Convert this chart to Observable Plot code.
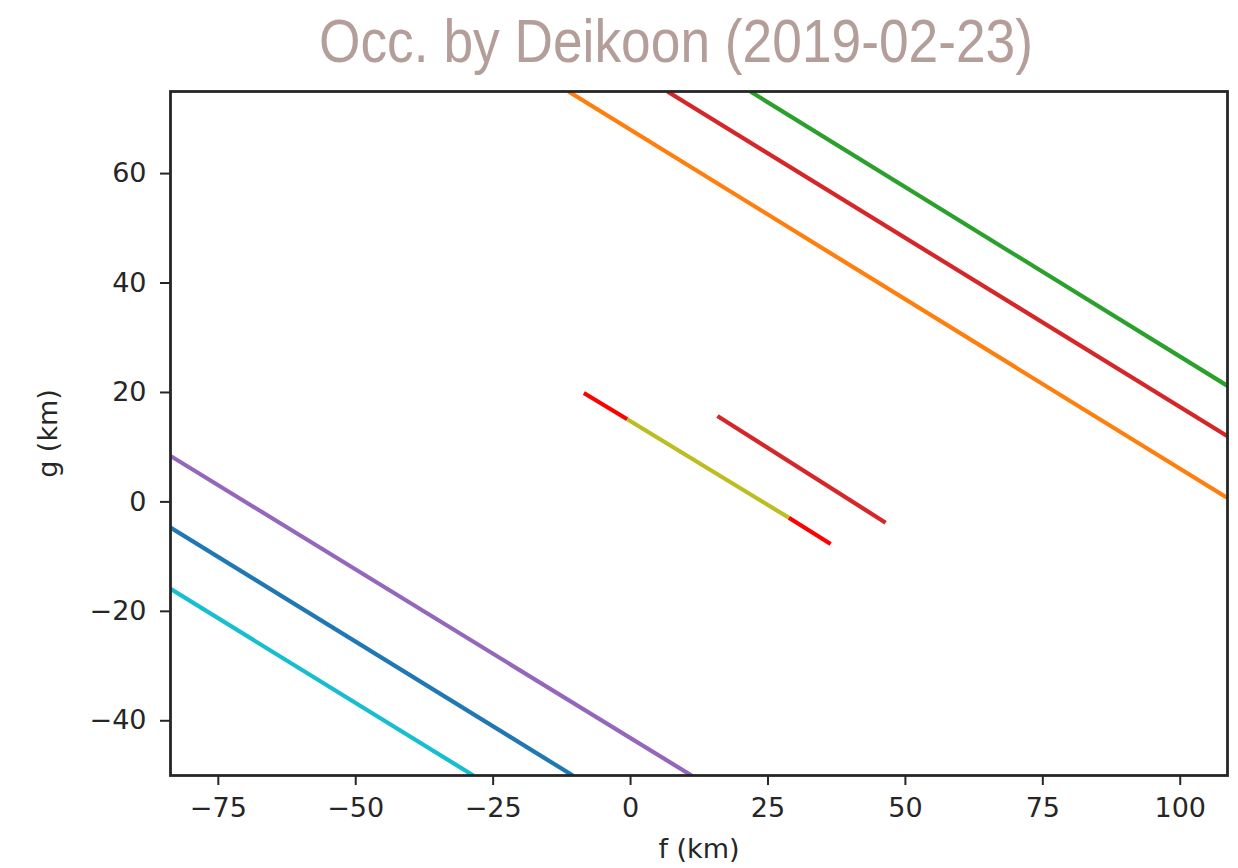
<!DOCTYPE html>
<html><head><meta charset="utf-8">
<script src="https://cdn.jsdelivr.net/npm/d3@7"></script>
<script src="https://cdn.jsdelivr.net/npm/@observablehq/plot@0.6"></script>
<style>
body{margin:0;background:#fff;}
svg{display:block}
</style>
</head><body>
<div id="title"></div>
<div id="chart"></div>
<script>
const titleText = "Occ. by Deikoon (2019-02-23)";
const xLabel = "f (km)";
const yLabel = "g (km)";
const xDomain = [-83.7, 108.6];
const yDomain = [-50, 75];
const xTicks = [-75, -50, -25, 0, 25, 50, 75, 100];
const yTicks = [-40, -20, 0, 20, 40, 60];

// chord segments (endpoints)
const chordNames = ["orange", "red", "green", "purple", "blue", "cyan", "obs1-start", "obs1-chord", "obs1-end", "obs2"];
const chordX1 = [-11.3, 6.7, 21.8, -83.7, -83.7, -83.7, -8.5, -0.6, 28.8, 15.8];
const chordY1 = [75, 75, 75, 8.4, -4.7, -15.9, 19.9, 15.1, -2.9, 15.7];
const chordX2 = [108.6, 108.6, 108.6, 11.1, -10.5, -28.6, -0.6, 28.8, 36.4, 46.4];
const chordY2 = [0.7, 12.0, 21.2, -50, -50, -50, 15.1, -2.9, -7.7, -3.8];
const chordColors = ["#ff7f0e", "#d62728", "#2ca02c", "#9467bd", "#1f77b4", "#17becf", "#ff0000", "#bcbd22", "#ff0000", "#d62728"];

// title
const titleH = 80;
const tsvg = d3.select("#title").append("svg").attr("width", 1238).attr("height", titleH);
tsvg.append("text")
  .attr("x", 676).attr("y", 62)
  .attr("text-anchor", "middle")
  .attr("textLength", 714)
  .attr("lengthAdjust", "spacingAndGlyphs")
  .attr("font-family", "Liberation Sans, Arial, sans-serif")
  .attr("font-size", 62)
  .attr("fill", "#b39e99")
  .text(titleText);

const fmt = d3.format("d");
const plot = Plot.plot({
  width: 1238,
  height: 868 - titleH,
  marginTop: 11,
  marginBottom: 93,
  marginLeft: 170,
  marginRight: 11,
  style: {fontFamily: "DejaVu Sans, sans-serif", fontSize: "27px", color: "#262626", background: "#fff"},
  x: {domain: xDomain},
  y: {domain: yDomain},
  marks: [
    Plot.link(chordNames, {
      x1: (d, i) => chordX1[i],
      y1: (d, i) => chordY1[i],
      x2: (d, i) => chordX2[i],
      y2: (d, i) => chordY2[i],
      stroke: (d, i) => chordColors[i],
      strokeWidth: 4.2,
      strokeLinecap: "butt",
      clip: true
    }),
    Plot.frame({stroke: "#262626", strokeWidth: 2.8}),
    Plot.axisX({ticks: xTicks, tickFormat: fmt, tickSize: 10, tickPadding: 12, strokeWidth: 2, label: xLabel, labelAnchor: "center", labelArrow: "none", labelOffset: 82}),
    Plot.axisY({ticks: yTicks, tickFormat: fmt, tickSize: 10, tickPadding: 14, strokeWidth: 2, label: yLabel, labelAnchor: "center", labelArrow: "none", labelOffset: 133})
  ]
});
document.getElementById("chart").appendChild(plot);
</script>
</body></html>
